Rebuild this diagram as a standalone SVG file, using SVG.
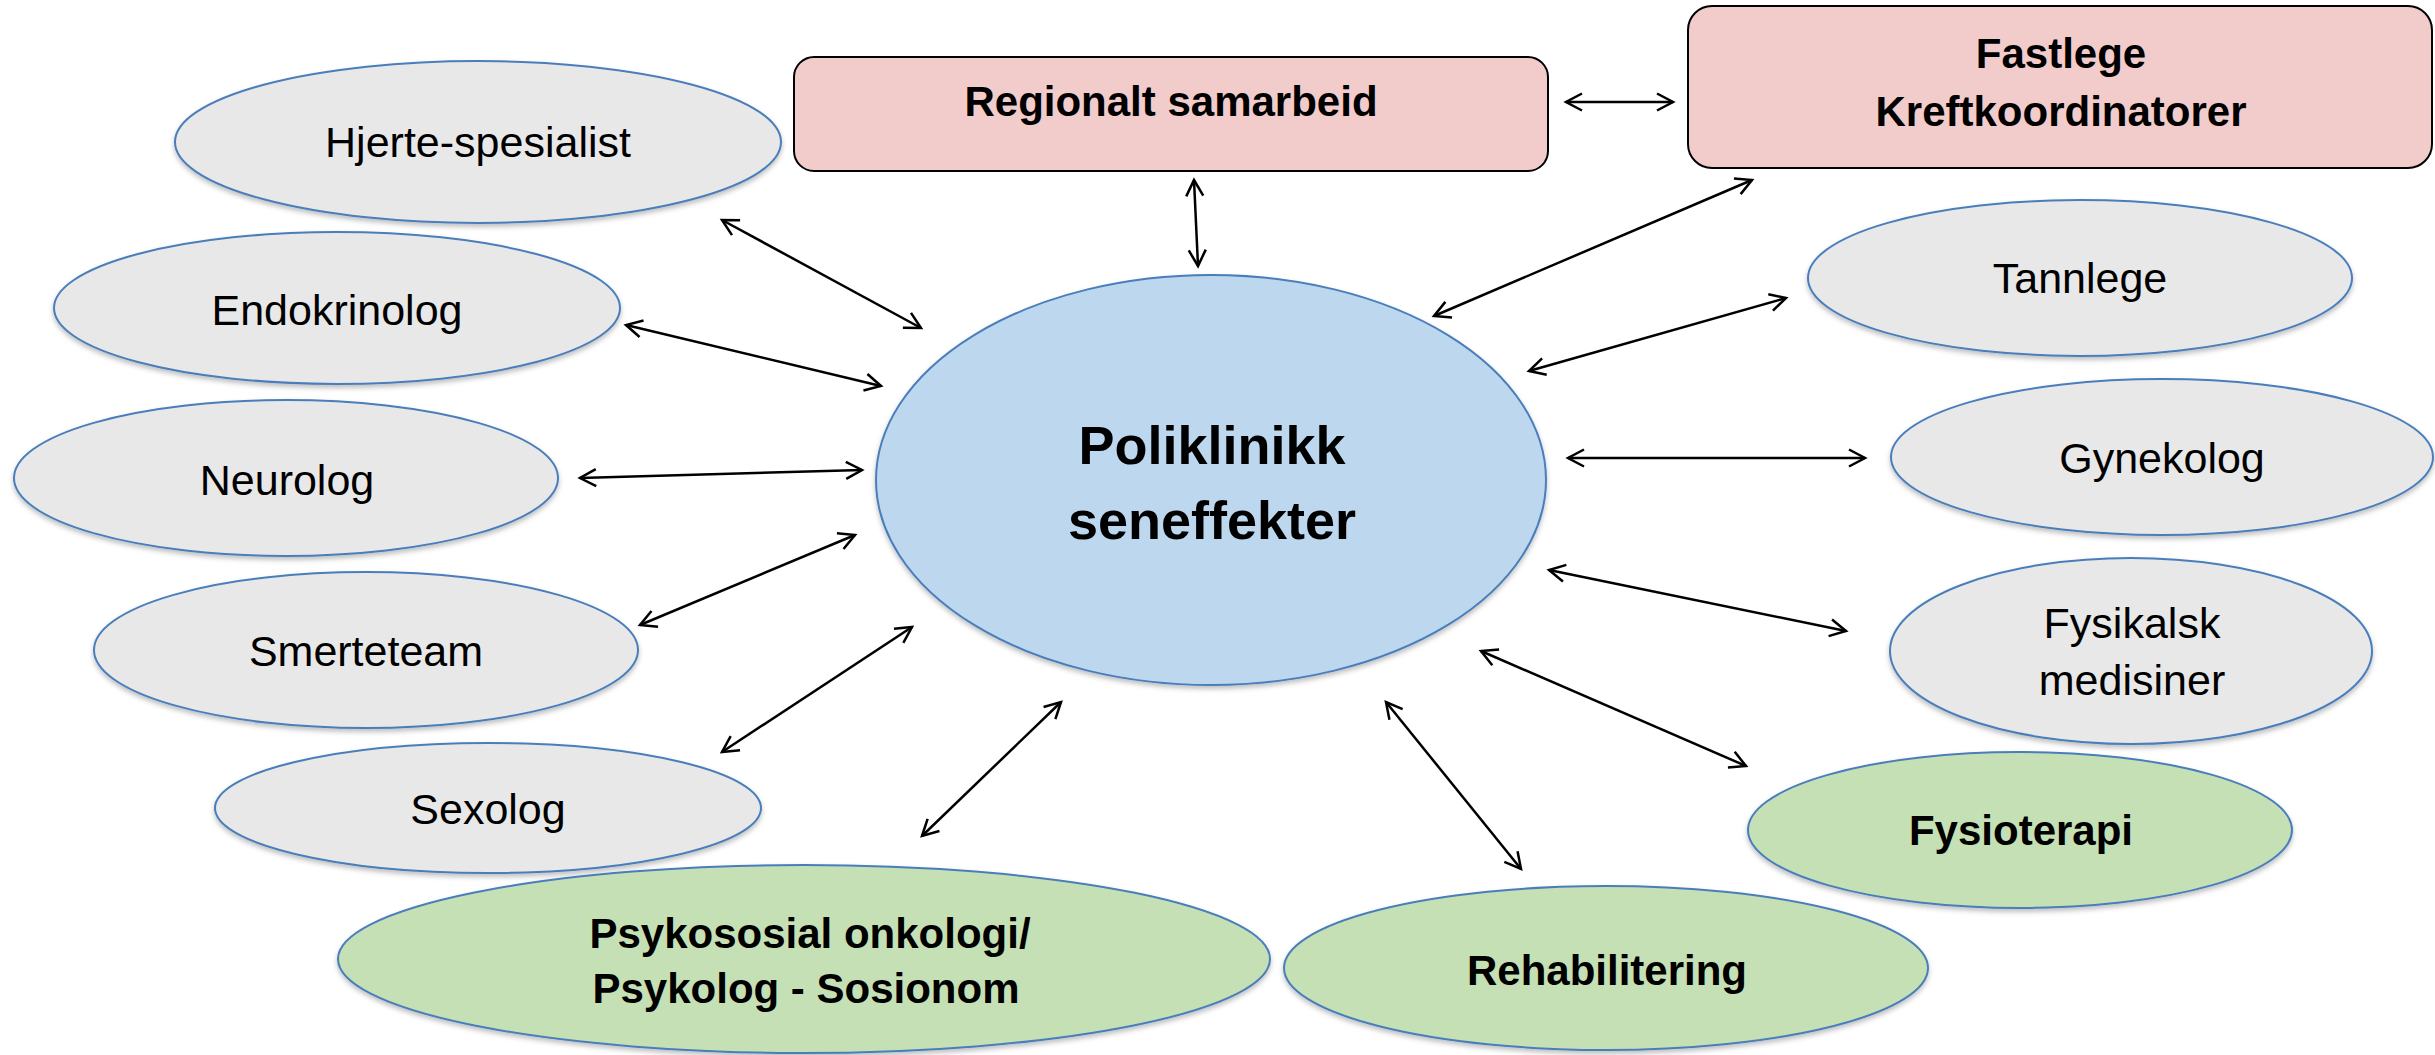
<svg xmlns="http://www.w3.org/2000/svg" width="2435" height="1055" viewBox="0 0 2435 1055">
<style>
  text { font-family: "Liberation Sans", Arial, sans-serif; fill: #000; text-anchor: middle; }
  .reg { font-size: 43px; }
  .bold { font-size: 42px; font-weight: bold; }
  .big { font-size: 54px; font-weight: bold; }
  .grey { fill: #E8E8E8; stroke: #4A7EBB; stroke-width: 2; filter: url(#sh); }
  .green { fill: #C5E0B4; stroke: #4A7EBB; stroke-width: 2; filter: url(#sh); }
  .center { fill: #BDD7EE; stroke: #4A7EBB; stroke-width: 2; filter: url(#sh); }
  .box { fill: #F2CBCB; stroke: #000; stroke-width: 2; }
  .con { stroke: #000; stroke-width: 2.5; fill: none; marker-start: url(#arr); marker-end: url(#arr); }
</style>
<defs>
  <filter id="sh" x="-10%" y="-10%" width="120%" height="130%">
    <feDropShadow dx="0" dy="3" stdDeviation="2.5" flood-color="#000" flood-opacity="0.25"/>
  </filter>
  <marker id="arr" markerUnits="userSpaceOnUse" viewBox="-20 -12 24 24" markerWidth="24" markerHeight="24" refX="0" refY="0" orient="auto-start-reverse">
    <path d="M-16,-8.5 L0,0 L-16,8.5" fill="none" stroke="#000" stroke-width="2.5"/>
  </marker>
</defs>
<rect width="2435" height="1055" fill="#fff"/>

<g id="connectors">
  <line class="con" x1="722" y1="220" x2="921" y2="328"/>
  <line class="con" x1="626" y1="325" x2="881" y2="386"/>
  <line class="con" x1="580" y1="478" x2="862" y2="470"/>
  <line class="con" x1="640" y1="625" x2="855" y2="535"/>
  <line class="con" x1="722" y1="752" x2="912" y2="627"/>
  <line class="con" x1="922" y1="836" x2="1061" y2="702"/>
  <line class="con" x1="1386" y1="702" x2="1521" y2="869"/>
  <line class="con" x1="1481" y1="651" x2="1746" y2="766"/>
  <line class="con" x1="1549" y1="570" x2="1846" y2="631"/>
  <line class="con" x1="1568" y1="458" x2="1865" y2="458"/>
  <line class="con" x1="1529" y1="371" x2="1786" y2="298"/>
  <line class="con" x1="1434" y1="316" x2="1752" y2="180"/>
  <line class="con" x1="1566" y1="102" x2="1673" y2="102"/>
  <line class="con" x1="1194" y1="180" x2="1198" y2="266"/>
</g>

<g id="regional">
  <rect class="box" x="794" y="57" width="754" height="114" rx="20" ry="20"/>
  <text class="bold" x="1171" y="116">Regionalt samarbeid</text>
</g>
<g id="fastlege">
  <rect class="box" x="1688" y="6" width="744" height="162" rx="24" ry="24"/>
  <text class="bold" x="2061" y="68">Fastlege</text>
  <text class="bold" x="2061" y="126">Kreftkoordinatorer</text>
</g>

<g id="hjerte">
  <ellipse class="grey" cx="478" cy="142" rx="303" ry="81"/>
  <text class="reg" x="478" y="157">Hjerte-spesialist</text>
</g>
<g id="endokrinolog">
  <ellipse class="grey" cx="337" cy="308" rx="283" ry="76"/>
  <text class="reg" x="337" y="325">Endokrinolog</text>
</g>
<g id="neurolog">
  <ellipse class="grey" cx="286" cy="478" rx="272" ry="78"/>
  <text class="reg" x="287" y="495">Neurolog</text>
</g>
<g id="smerteteam">
  <ellipse class="grey" cx="366" cy="650" rx="272" ry="78"/>
  <text class="reg" x="366" y="666">Smerteteam</text>
</g>
<g id="sexolog">
  <ellipse class="grey" cx="488" cy="808" rx="273" ry="65"/>
  <text class="reg" x="488" y="824">Sexolog</text>
</g>
<g id="psykososial">
  <ellipse class="green" cx="804" cy="959" rx="466" ry="94"/>
  <text class="bold" x="810" y="948">Psykososial onkologi/</text>
  <text class="bold" x="806" y="1003">Psykolog - Sosionom</text>
</g>
<g id="rehabilitering">
  <ellipse class="green" cx="1606" cy="968" rx="322" ry="82"/>
  <text class="bold" x="1607" y="985">Rehabilitering</text>
</g>
<g id="fysioterapi">
  <ellipse class="green" cx="2020" cy="830" rx="272" ry="78"/>
  <text class="bold" x="2021" y="845">Fysioterapi</text>
</g>
<g id="fysikalsk">
  <ellipse class="grey" cx="2131" cy="651" rx="241" ry="93"/>
  <text class="reg" x="2132" y="638">Fysikalsk</text>
  <text class="reg" x="2132" y="695">medisiner</text>
</g>
<g id="gynekolog">
  <ellipse class="grey" cx="2162" cy="457" rx="271" ry="78"/>
  <text class="reg" x="2162" y="473">Gynekolog</text>
</g>
<g id="tannlege">
  <ellipse class="grey" cx="2080" cy="278" rx="272" ry="78"/>
  <text class="reg" x="2080" y="293">Tannlege</text>
</g>

<g id="poliklinikk">
  <ellipse class="center" cx="1211" cy="480" rx="335" ry="205"/>
  <text class="big" x="1212" y="464">Poliklinikk</text>
  <text class="big" x="1212" y="539">seneffekter</text>
</g>
</svg>
